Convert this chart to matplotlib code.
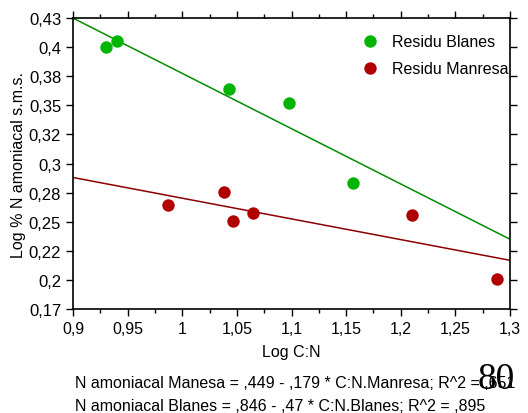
import numpy as np
import matplotlib
matplotlib.use('Agg')
import matplotlib.pyplot as plt
from matplotlib.ticker import MultipleLocator

plt.rcParams['font.family'] = ['Liberation Sans', 'DejaVu Sans']

# punts llegits del grafic
blanes_x = [0.930, 0.940, 1.0425, 1.098, 1.156]
blanes_y = [0.4044, 0.4097, 0.3663, 0.354, 0.2826]
manresa_x = [0.987, 1.0385, 1.0467, 1.0648, 1.2106, 1.288]
manresa_y = [0.2632, 0.2748, 0.2486, 0.2555, 0.2537, 0.197]

# rectes de regressio (ordenada, pendent) tal com es dibuixen
blanes_fit = (0.8745, -0.494)
manresa_fit = (0.454, -0.185)

xticks = [0.9, 0.95, 1.0, 1.05, 1.1, 1.15, 1.2, 1.25, 1.3]
xlabels = ['0,9', '0,95', '1', '1,05', '1,1', '1,15', '1,2', '1,25', '1,3']
yticks = np.linspace(0.17, 0.43, 11)
ylabels = ['0,17', '0,2', '0,22', '0,25', '0,28', '0,3', '0,32', '0,35', '0,38', '0,4', '0,43']

eq_manresa = 'N amoniacal Manesa = ,449 - ,179 * C:N.Manresa; R^2 = ,651'
eq_blanes = 'N amoniacal Blanes = ,846 - ,47 * C:N.Blanes; R^2 = ,895'

fig = plt.figure(figsize=(5.28, 4.14), dpi=100)
ax = fig.add_axes([0.1383, 0.2512, 0.8277, 0.7029])

xx = np.array([0.9, 1.3])
ax.plot(xx, blanes_fit[0] + blanes_fit[1] * xx, color='#008c00', lw=1.1, zorder=2)
ax.plot(xx, manresa_fit[0] + manresa_fit[1] * xx, color='#8b0000', lw=1.1, zorder=2)
ax.scatter(blanes_x, blanes_y, s=80, color='#00b400', label='Residu Blanes', zorder=3, lw=0)
ax.scatter(manresa_x, manresa_y, s=80, color='#b00000', label='Residu Manresa', zorder=3, lw=0)

ax.set_xlim(0.9, 1.3)
ax.set_ylim(0.17, 0.43)
ax.set_xticks(xticks)
ax.set_xticklabels(xlabels, fontsize=11.5)
ax.xaxis.set_minor_locator(MultipleLocator(0.025))
ax.set_yticks(yticks)
ax.set_yticklabels(ylabels, fontsize=12)
ax.tick_params(which='major', direction='out', length=5, width=1, top=True, right=True)
ax.tick_params(which='minor', direction='out', length=3, width=1, top=True)
for s in ax.spines.values():
    s.set_linewidth(1.2)

ax.set_xlabel('Log C:N', fontsize=11.5, labelpad=6)
ax.set_ylabel('Log % N amoniacal s.m.s.', fontsize=11.5, labelpad=2)

ax.legend(loc='upper right', frameon=False, fontsize=11.5, handletextpad=0.4,
          bbox_to_anchor=(1.023, 0.985), borderaxespad=0.3, labelspacing=0.75)

fig.text(0.142, 0.073, eq_manresa, fontsize=11.5, va='center')
fig.text(0.142, 0.018, eq_blanes, fontsize=11.5, va='center')
fig.text(0.94, 0.082, '80', fontsize=27, family='Liberation Serif', ha='center', va='center')

fig.savefig('out.png', dpi=100)
